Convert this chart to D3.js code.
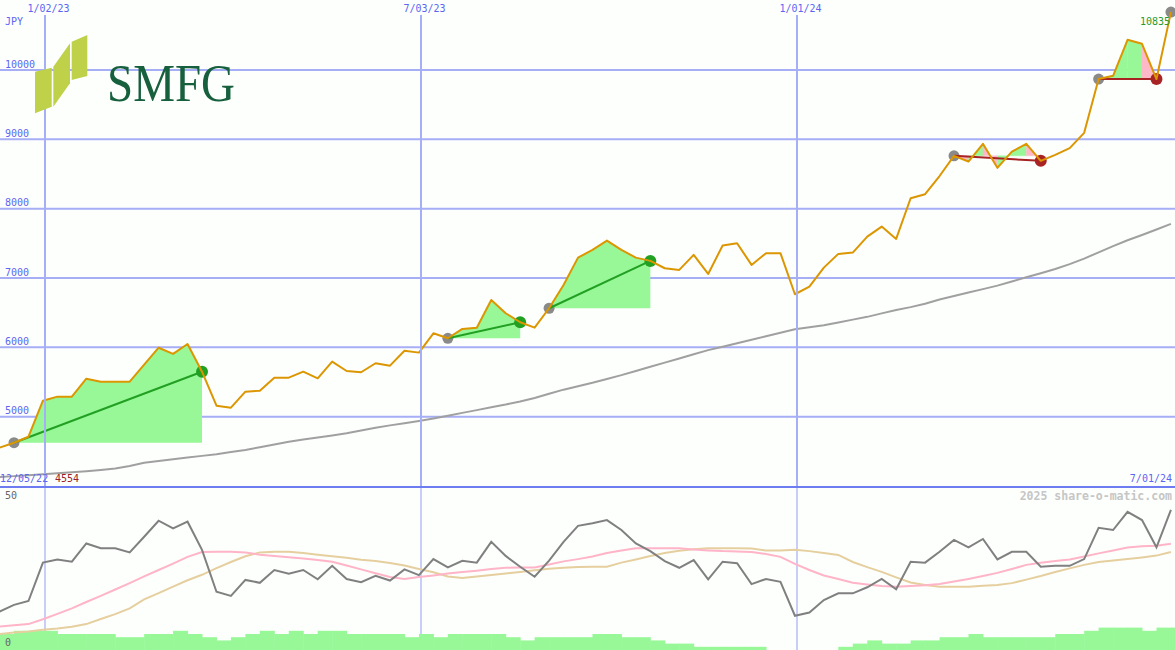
<!DOCTYPE html>
<html><head><meta charset="utf-8">
<script src="https://cdn.jsdelivr.net/npm/d3@7"></script>
<style>
html,body{margin:0;padding:0;background:#fff;}
svg{display:block;}
text{font-family:"DejaVu Sans Mono",monospace;}
text.logo{font-family:"Liberation Serif","DejaVu Serif",serif;}
</style>
</head><body>
<svg id="c" width="1175" height="650"></svg>
<script>
// ---- data ----
const dates = ["2022-12-11","2022-12-18","2022-12-25",
"2023-01-01","2023-01-08","2023-01-15","2023-01-22","2023-01-29","2023-02-05","2023-02-12","2023-02-19","2023-02-26",
"2023-03-05","2023-03-12","2023-03-19","2023-03-26","2023-04-02","2023-04-09","2023-04-16","2023-04-23","2023-04-30",
"2023-05-07","2023-05-14","2023-05-21","2023-05-28","2023-06-04","2023-06-11","2023-06-18","2023-06-25",
"2023-07-02","2023-07-09","2023-07-16","2023-07-23","2023-07-30","2023-08-06","2023-08-13","2023-08-20","2023-08-27",
"2023-09-03","2023-09-10","2023-09-17","2023-09-24","2023-10-01","2023-10-08","2023-10-15","2023-10-22","2023-10-29",
"2023-11-05","2023-11-12","2023-11-19","2023-11-26","2023-12-03","2023-12-10","2023-12-17","2023-12-24","2023-12-31",
"2024-01-07","2024-01-14","2024-01-21","2024-01-28","2024-02-04","2024-02-11","2024-02-18","2024-02-25",
"2024-03-03","2024-03-10","2024-03-17","2024-03-24","2024-03-31","2024-04-07","2024-04-14","2024-04-21","2024-04-28",
"2024-05-05","2024-05-12","2024-05-19","2024-05-26","2024-06-02","2024-06-09","2024-06-16","2024-06-23","2024-06-30"];

const price = [4554,4625,4711,5231,5289,5289,5548,5505,5505,5505,
5750,5995,5905,6049,5649,5159,5130,5361,5375,5563,
5563,5649,5554,5794,5659,5641,5771,5736,5952,5924,
6203,6131,6266,6284,6684,6492,6362,6284,6564,6900,
7294,7405,7540,7405,7294,7247,7141,7117,7333,7059,
7468,7502,7189,7358,7358,6766,6876,7150,7348,7367,
7597,7742,7564,8151,8209,8471,8762,8680,8935,8589,
8824,8935,8690,8775,8873,9094,9869,9916,10436,10378,
9869,10835];

const movingAvg = [4130,4143,4157,4170,4185,4200,4215,4232,4253,4290,
4335,4360,4385,4410,4435,4460,4490,4520,4560,4600,
4640,4670,4700,4730,4760,4800,4840,4875,4905,4938,
4975,5015,5055,5095,5135,5175,5220,5270,5330,5390,
5440,5490,5545,5600,5660,5720,5780,5840,5900,5960,
6010,6060,6110,6160,6210,6260,6290,6320,6360,6400,
6440,6490,6540,6580,6630,6690,6740,6790,6840,6890,
6950,7010,7070,7130,7200,7280,7370,7460,7545,7620,
7700,7780];

const osc = [12.0,14.1,15.3,27.3,28.3,27.6,33.3,31.8,31.8,30.5,
35.4,40.4,38.0,40.1,31.3,18.2,16.9,21.9,21.0,25.0,
23.8,25.0,22.1,26.3,22.2,21.2,23.2,21.7,25.2,23.4,
28.4,25.8,27.9,27.3,33.8,29.4,26.0,22.9,27.9,33.8,
38.8,39.6,40.6,37.5,33.3,30.9,27.8,25.7,28.1,22.1,
27.6,27.1,20.6,22.2,21.3,10.7,11.7,15.6,17.7,17.7,
19.6,22.2,19.0,27.6,27.3,30.7,34.4,32.1,34.7,28.3,
30.7,30.7,26.0,26.3,26.3,28.4,38.2,37.5,43.2,40.6,
32.1,43.8];

const oscFast = [7.3,7.7,8.1,9.6,11.3,13.0,15.0,16.9,18.9,20.9,
23.0,25.0,27.0,29.1,30.6,30.7,30.7,30.5,29.8,29.4,
29.0,28.6,28.1,27.6,26.4,25.2,24.0,22.8,22.2,22.8,
23.3,23.9,24.4,24.8,25.3,25.7,25.8,25.8,26.7,27.7,
28.4,29.2,30.3,31.1,31.8,31.8,31.8,31.8,31.4,31.1,
30.9,30.8,30.6,30.0,29.1,26.9,25.0,23.3,22.2,21.0,
20.5,20.0,19.8,20.0,20.2,20.6,21.4,22.2,23.1,24.1,
25.3,26.6,27.3,27.8,28.3,29.2,30.2,31.1,32.0,32.4,
32.6,33.2];

const oscSlow = [5.0,5.5,5.8,6.3,6.7,7.3,8.1,9.7,11.2,13.0,
15.8,17.8,19.8,21.8,23.5,25.6,27.5,29.3,30.5,30.7,
30.7,30.3,29.8,29.3,28.8,28.2,27.8,27.2,26.4,25.3,
24.3,23.0,22.5,23.0,23.4,23.9,24.4,24.9,25.4,25.7,
25.9,26.0,26.0,27.3,28.3,29.4,30.3,31.0,31.5,31.8,
31.8,31.8,31.7,31.1,31.1,31.3,30.9,30.3,29.7,27.5,
25.9,24.4,22.7,21.1,20.3,19.8,19.8,19.8,20.1,20.3,
20.9,22.0,23.1,24.4,25.5,26.6,27.5,28.0,28.4,28.9,
29.5,30.6];

const volume = [5,6,6,6,5,5,5,5,4,4,
5,5,6,5,4,3,4,5,6,5,
6,5,6,6,5,5,5,5,4,5,
4,5,5,5,5,4,3,4,4,4,
4,5,5,4,4,3,2,2,1,1,
1,1,1,0,0,0,0,0,1,2,
3,2,2,3,3,4,4,5,4,4,
4,4,4,5,5,6,7,7,7,6,
7,7];

const yTicks = [5000,6000,7000,8000,9000,10000];
const gridDates = ["2023-01-02","2023-07-03","2024-01-01"];
const gridLabels = ["1/02/23","7/03/23","1/01/24"];
const tradeEntry = [1,31,38,66,76];
const tradeExit = [14,36,45,72,80];
const tradeWin = [1,1,1,0,0];
const openEntry = [81];
const fallSegments = [66,68,71,79];

// ---- drawing ----
const W = 1175, H = 650, DIV = 487;
const parse = d3.utcParse("%Y-%m-%d");
const D = dates.map(parse);
const x = d3.scaleUtc().domain([parse("2023-01-02"), parse("2024-01-01")]).range([45, 797]);
const y = d3.scaleLinear().domain([5000, 10000]).range([416.7, 70]);
const yo = d3.scaleLinear().domain([0, 50]).range([650, 490]);

const GRID = "#a6aef5", BLUE_TXT = "#5c66f2", GREENF = "#98f898", PINKF = "#ffb8c8";
const svg = d3.select("#c");
svg.append("rect").attr("width", W).attr("height", H).attr("fill", "#fdfffd");

const defs = svg.append("defs");
defs.append("clipPath").attr("id", "top").append("rect").attr("x", 0).attr("y", 0).attr("width", W).attr("height", DIV);
defs.append("clipPath").attr("id", "bot").append("rect").attr("x", 0).attr("y", DIV).attr("width", W).attr("height", H - DIV);

// horizontal grid
const gTop = svg.append("g").attr("clip-path", "url(#top)");
gTop.selectAll("line.h").data(yTicks).join("line")
  .attr("x1", 0).attr("x2", W).attr("y1", d => y(d)).attr("y2", d => y(d))
  .attr("stroke", GRID).attr("stroke-width", 2);
// vertical grid
svg.selectAll("line.vt").data(gridDates).join("line")
  .attr("x1", d => x(parse(d))).attr("x2", d => x(parse(d)))
  .attr("y1", 15).attr("y2", DIV).attr("stroke", GRID).attr("stroke-width", 2);
svg.selectAll("line.vb").data(gridDates).join("line")
  .attr("x1", d => x(parse(d))).attr("x2", d => x(parse(d)))
  .attr("y1", DIV).attr("y2", H).attr("stroke", GRID).attr("stroke-width", 1.2);

// logo
const logo = svg.append("g");
const panels = [
  [[35,71.7],[51.7,67.7],[51.7,106.7],[35,113.3]],
  [[53.3,66.7],[70,43.3],[70,83.3],[53.3,106.7]],
  [[71.7,41.7],[87.3,35],[87.3,76],[71.7,80]]
];
logo.selectAll("polygon").data(panels).join("polygon")
  .attr("points", d => d.map(p => p.join(",")).join(" "))
  .attr("fill", "#bfd148");
logo.append("text").attr("class", "logo").attr("x", 107).attr("y", 101).text("SMFG")
  .attr("font-size", 52).attr("fill", "#17603d")
  .attr("textLength", 128).attr("lengthAdjust", "spacingAndGlyphs");

// moving average
gTop.append("path").datum(movingAvg)
  .attr("d", d3.line().x((d, i) => x(D[i])).y(d => y(d)))
  .attr("fill", "none").attr("stroke", "#a0a0a0").attr("stroke-width", 2);

// trade fills
tradeEntry.forEach((e, k) => {
  const ex = tradeExit[k];
  const base = y(price[e]);
  const area = d3.area().x(d => x(d.d)).y0(base).y1(d => y(d.p));
  if (tradeWin[k]) {
    gTop.append("path").datum(d3.range(e, ex + 1).map(i => ({d: D[i], p: price[i]})))
      .attr("d", area).attr("fill", GREENF);
  } else {
    for (let i = e; i < ex; i++) {
      const c = fallSegments.includes(i) ? PINKF : GREENF;
      gTop.append("path").datum([{d: D[i], p: price[i]}, {d: D[i + 1], p: price[i + 1]}])
        .attr("d", area).attr("fill", c).attr("stroke", c).attr("stroke-width", 0.4);
    }
  }
});

// dots
tradeEntry.concat(openEntry).forEach(e => {
  gTop.append("circle").attr("cx", x(D[e])).attr("cy", y(price[e])).attr("r", 5.5).attr("fill", "#8a8a8a");
});
tradeExit.forEach((e, k) => {
  gTop.append("circle").attr("cx", x(D[e])).attr("cy", y(price[e])).attr("r", 6)
    .attr("fill", tradeWin[k] ? "#22a022" : "#a82424");
});
// trade lines
tradeEntry.forEach((e, k) => {
  const ex = tradeExit[k];
  gTop.append("path").datum([e, ex])
    .attr("d", d3.line().x(i => x(D[i])).y(i => y(price[i])))
    .attr("stroke", tradeWin[k] ? "#22a022" : "#a82424").attr("stroke-width", 2).attr("fill", "none");
});

// price line
gTop.append("path").datum(price)
  .attr("d", d3.line().x((d, i) => x(D[i])).y(d => y(d)))
  .attr("fill", "none").attr("stroke", "#dc9602").attr("stroke-width", 2).attr("stroke-linejoin", "round");

// y labels
svg.selectAll("text.yl").data(yTicks).join("text")
  .attr("x", 5).attr("y", d => y(d) - 2.5).text(d => d)
  .attr("font-size", 10).attr("fill", BLUE_TXT);
svg.append("text").attr("x", 5).attr("y", 25).text("JPY").attr("font-size", 10).attr("fill", BLUE_TXT);
// x labels top
svg.selectAll("text.xl").data(gridDates).join("text")
  .attr("x", d => x(parse(d)) + 3.5).attr("y", 12).attr("text-anchor", "middle")
  .text((d, i) => gridLabels[i]).attr("font-size", 10).attr("fill", BLUE_TXT);
// last price
svg.append("text").attr("x", 1170).attr("y", 25).attr("text-anchor", "end")
  .text(price[price.length - 1]).attr("font-size", 10).attr("fill", "#2a9a2a");

// bottom labels
svg.append("text").attr("x", 0).attr("y", 482).text("12/05/22").attr("font-size", 10).attr("fill", BLUE_TXT);
svg.append("text").attr("x", 55).attr("y", 482).text(price[0]).attr("font-size", 10).attr("fill", "#a02020");
svg.append("text").attr("x", 1172).attr("y", 482).attr("text-anchor", "end").text("7/01/24").attr("font-size", 10).attr("fill", BLUE_TXT);
svg.append("line").attr("x1", 0).attr("x2", W).attr("y1", DIV).attr("y2", DIV).attr("stroke", "#6e7cf2").attr("stroke-width", 2);

// lower panel
const gBot = svg.append("g").attr("clip-path", "url(#bot)");
const step = x(D[1]) - x(D[0]);
gBot.selectAll("rect.v").data(volume).join("rect")
  .attr("x", (d, i) => x(D[i])).attr("width", step + 0.5)
  .attr("y", d => yo(d)).attr("height", d => yo(0) - yo(d))
  .attr("fill", GREENF);
const oline = d3.line().x((d, i) => x(D[i])).y(d => yo(d));
gBot.append("path").datum(oscSlow).attr("d", oline).attr("fill", "none").attr("stroke", "#e6cf9f").attr("stroke-width", 2);
gBot.append("path").datum(oscFast).attr("d", oline).attr("fill", "none").attr("stroke", "#ffb4c8").attr("stroke-width", 2);
gBot.append("path").datum(osc).attr("d", oline).attr("fill", "none").attr("stroke", "#808080").attr("stroke-width", 2);

svg.append("text").attr("x", 1172).attr("y", 500).attr("text-anchor", "end")
  .text("2025 share-o-matic.com").attr("font-size", 11.5).attr("font-weight", "bold").attr("fill", "#c6c6c6");
svg.append("text").attr("x", 5).attr("y", 499).text("50").attr("font-size", 10).attr("fill", "#666");
svg.append("text").attr("x", 5).attr("y", 646).text("0").attr("font-size", 10).attr("fill", "#666");
</script>
</body></html>
